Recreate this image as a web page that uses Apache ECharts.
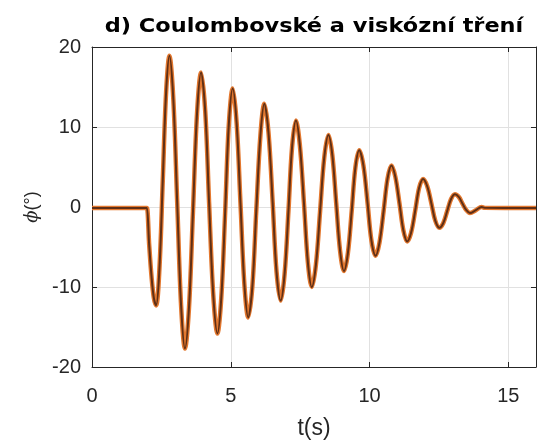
<!DOCTYPE html>
<html>
<head>
<meta charset="utf-8">
<script src="https://cdn.jsdelivr.net/npm/echarts@6/dist/echarts.min.js"></script>
<style>
  html, body { margin: 0; padding: 0; background: #fff; }
  #chart { width: 539px; height: 445px; }
</style>
</head>
<body>
<div id="chart"></div>
<script>
// Time samples (s) of the pendulum angle response
const timeS = [
  0, 1.95, 1.98, 2.06, 2.145, 2.23, 2.31,
  2.43, 2.55, 2.67, 2.79,
  2.93, 3.07, 3.21, 3.35,
  3.495, 3.64, 3.785, 3.93,
  4.08, 4.22, 4.37, 4.52,
  4.66, 4.80, 4.93, 5.07,
  5.21, 5.35, 5.49, 5.63,
  5.78, 5.92, 6.07, 6.21,
  6.36, 6.51, 6.65, 6.80,
  6.94, 7.08, 7.21, 7.35,
  7.49, 7.64, 7.78, 7.92,
  8.07, 8.22, 8.37, 8.52,
  8.66, 8.80, 8.94, 9.08,
  9.22, 9.36, 9.49, 9.63,
  9.78, 9.93, 10.07, 10.22,
  10.36, 10.51, 10.65, 10.79,
  10.93, 11.08, 11.22, 11.36,
  11.50, 11.65, 11.79, 11.93,
  12.08, 12.23, 12.37, 12.52,
  12.66, 12.80, 12.94, 13.08,
  13.22, 13.35, 13.49, 13.62,
  13.83, 14.04, 14.15, 16
];

// Angle phi (deg) at those samples
const phiDeg = [
  -0.12, -0.12, -0.12, -4.7, -8.7, -11.4, -12.3,
  -7.7, 3.3, 14.3, 18.9,
  13.5, 0.6, -12.3, -17.7,
  -12.6, -0.45, 11.7, 16.8,
  12.0, 0.5, -11.0, -15.8,
  -11.3, -0.5, 10.3, 14.8,
  10.6, 0.5, -9.6, -13.8,
  -9.9, -0.45, 9.0, 12.9,
  9.3, 0.6, -8.1, -11.7,
  -8.4, -0.45, 7.5, 10.8,
  7.75, 0.4, -6.95, -10.0,
  -7.2, -0.5, 6.2, 9.0,
  6.5, 0.5, -5.5, -8.0,
  -5.8, -0.45, 4.9, 7.1,
  5.2, 0.5, -4.2, -6.1,
  -4.45, -0.45, 3.55, 5.2,
  3.8, 0.45, -2.9, -4.3,
  -3.2, -0.4, 2.4, 3.5,
  2.6, 0.45, -1.7, -2.6,
  -2.0, -0.5, 1.0, 1.6,
  1.25, 0.43, -0.4, -0.75,
  -0.4, 0.0, -0.1, -0.12
];

const xTicks = { min: 0, max: 16, interval: 5 };
const yTicks = { min: -20, max: 20, interval: 10 };

const points = timeS.map((t, i) => [t, phiDeg[i]]);

const textColor = '#262626';
const fontFamily = '"Liberation Sans", Arial, Helvetica, sans-serif';

const chart = echarts.init(document.getElementById('chart'), null, { renderer: 'canvas' });

const boxAxisLine = { show: true, onZero: false, lineStyle: { color: '#262626', width: 1 } };
const innerTick = { show: true, inside: true, length: 5, lineStyle: { color: '#262626', width: 1 } };
const gridLine = { show: true, lineStyle: { color: '#e1e1e1', width: 1 } };

chart.setOption({
  backgroundColor: '#ffffff',
  animation: false,
  graphic: [{
    type: 'text',
    x: 314,
    y: 27,
    scaleX: 1.18,
    style: {
      text: 'd) Coulombovské a viskózní tření',
      font: 'bold 19px "DejaVu Sans", sans-serif',
      fill: '#000',
      textAlign: 'center',
      textVerticalAlign: 'middle'
    }
  }],
  grid: { left: 92, right: 3, top: 47, bottom: 76, containLabel: false },
  xAxis: [{
    type: 'value',
    min: xTicks.min, max: xTicks.max, interval: xTicks.interval,
    position: 'bottom',
    axisLine: boxAxisLine,
    axisTick: innerTick,
    splitLine: gridLine,
    axisLabel: { color: textColor, fontSize: 20, fontFamily: fontFamily, margin: 19, showMaxLabel: false },
    name: 't(s)',
    nameLocation: 'middle',
    nameGap: 50,
    nameTextStyle: { color: textColor, fontSize: 23, fontFamily: fontFamily }
  }, {
    type: 'value',
    min: xTicks.min, max: xTicks.max, interval: xTicks.interval,
    position: 'top',
    axisLine: boxAxisLine,
    axisTick: innerTick,
    axisLabel: { show: false },
    splitLine: { show: false }
  }],
  yAxis: [{
    type: 'value',
    min: yTicks.min, max: yTicks.max, interval: yTicks.interval,
    position: 'left',
    axisLine: boxAxisLine,
    axisTick: innerTick,
    splitLine: gridLine,
    axisLabel: { color: textColor, fontSize: 20, fontFamily: fontFamily, margin: 11 },
    name: '{p|ϕ}(°)',
    nameLocation: 'middle',
    nameRotate: 90,
    nameGap: 49,
    nameTextStyle: {
      color: textColor, fontSize: 18, fontFamily: fontFamily,
      rich: { p: { fontFamily: '"DejaVu Serif", serif', fontStyle: 'italic', fontSize: 18, color: textColor } }
    }
  }, {
    type: 'value',
    min: yTicks.min, max: yTicks.max, interval: yTicks.interval,
    position: 'right',
    axisLine: boxAxisLine,
    axisTick: innerTick,
    axisLabel: { show: false },
    splitLine: { show: false }
  }],
  series: [{
    name: 'phi-outer',
    type: 'line',
    data: points,
    showSymbol: false,
    smooth: 0.35,
    lineStyle: { color: '#e3782f', width: 4.5 },
    z: 3
  }, {
    name: 'phi',
    type: 'line',
    data: points,
    showSymbol: false,
    smooth: 0.35,
    lineStyle: { color: '#5e2f16', width: 2 },
    z: 4
  }]
});
</script>
</body>
</html>
